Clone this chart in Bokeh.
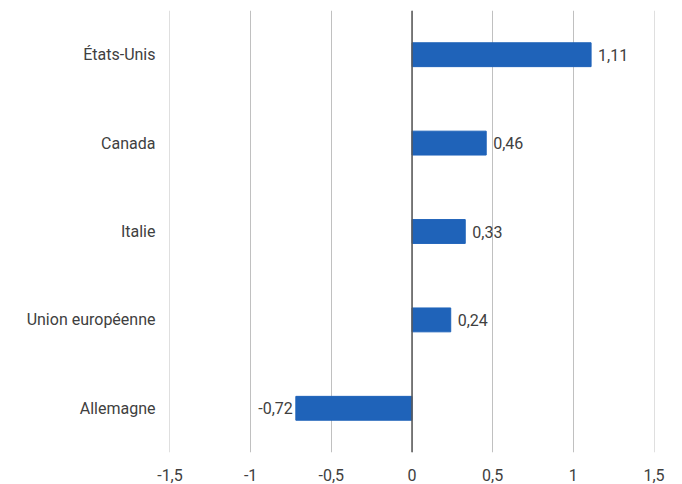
from bokeh.plotting import figure
from bokeh.models import FixedTicker, Span, ColumnDataSource, Range1d, FactorRange
from bokeh.core.properties import value
from bokeh.embed import file_html
from bokeh.resources import INLINE

categories = ["États-Unis", "Canada", "Italie", "Union européenne", "Allemagne"]
values = [1.11, 0.46, 0.33, 0.24, -0.72]
tick_values = [-1.5, -1, -0.5, 0, 0.5, 1, 1.5]
tick_labels = ["-1,5", "-1", "-0,5", "0", "0,5", "1", "1,5"]

FONT = "Roboto"
TXT = "#404040"

factors = list(reversed(categories))
p = figure(width=682, height=484, y_range=FactorRange(*factors, range_padding=0),
           x_range=Range1d(-1.503, 1.503), output_backend="svg", toolbar_location=None,
           min_border_left=169, min_border_right=28, min_border_top=10, min_border_bottom=32)
p.outline_line_color = None
p.background_fill_color = "white"

src = ColumnDataSource(dict(cat=categories, val=values,
                            lab=[f"{v:.2f}".replace(".", ",") for v in values],
                            align=["left" if v >= 0 else "right" for v in values],
                            off=[7 if v >= 0 else -3 for v in values]))
p.hbar(y="cat", right="val", left=0, height=0.27, source=src,
       fill_color="#1f63b9", line_color="#1f63b9")
p.text(x="val", y="cat", text="lab", source=src, text_align="align", x_offset="off",
       text_baseline="middle", text_font=value(FONT), text_font_size="16px", text_color=TXT)

p.add_layout(Span(location=0, dimension="height", line_color="#595959", line_width=1.5))

p.xaxis.ticker = FixedTicker(ticks=tick_values)
p.xaxis.major_label_overrides = {t: l for t, l in zip(tick_values, tick_labels)}
p.xaxis.axis_line_color = None
p.xaxis.major_tick_line_color = None
p.xaxis.minor_tick_line_color = None
p.xaxis.major_label_standoff = 10
p.xaxis.major_label_text_font = FONT
p.xaxis.major_label_text_font_size = "16px"
p.xaxis.major_label_text_color = TXT

p.yaxis.axis_line_color = None
p.yaxis.major_tick_line_color = None
p.yaxis.minor_tick_line_color = None
p.yaxis.major_label_standoff = 8
p.yaxis.major_label_text_font = FONT
p.yaxis.major_label_text_font_size = "16px"
p.yaxis.major_label_text_color = TXT

p.xgrid.grid_line_color = "#c0c0c0"
p.xgrid.grid_line_width = 1
p.ygrid.grid_line_color = None

open("out.html", "w").write(file_html(p, INLINE))
